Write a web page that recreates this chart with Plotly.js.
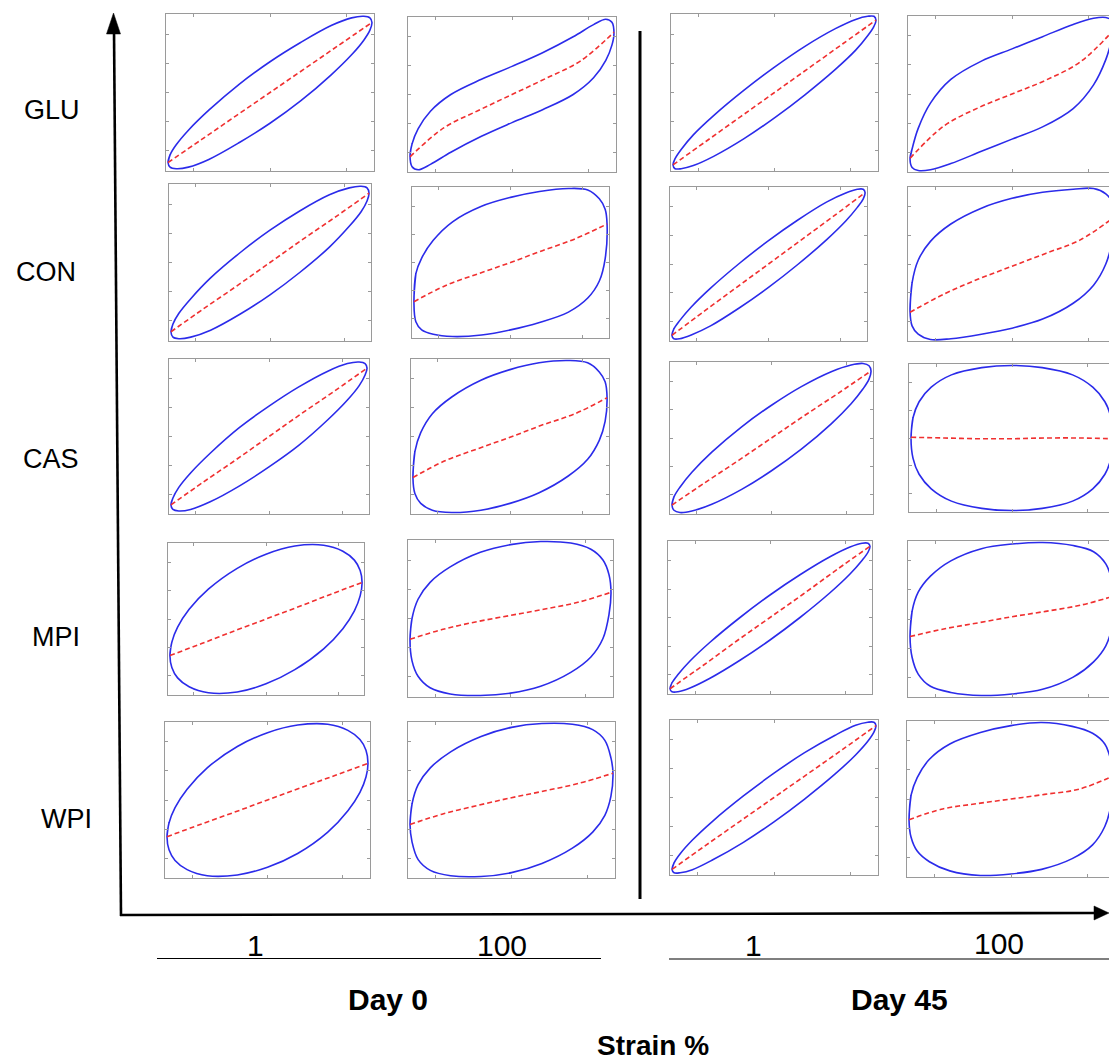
<!DOCTYPE html>
<html><head><meta charset="utf-8">
<script src="https://cdn.plot.ly/plotly-3.0.1.min.js"></script>
<style>html,body{margin:0;padding:0;background:#fff}</style>
</head><body><div id="chart" style="width:1109px;height:1062px"></div>
<script>
// ---------- labels ----------
const rowLabels = ['GLU', 'CON', 'CAS', 'MPI', 'WPI'];
const amplitudeLabels = ['1', '100', '1', '100'];
const dayLabels = ['Day 0', 'Day 45'];
const strainTitle = 'Strain %';

// ---------- normalised strain positions where stress was read ----------
const strainGrid  = [-1, -0.98, -0.92, -0.8, -0.6, -0.3, 0, 0.3, 0.6, 0.8, 0.92, 0.98, 1];
const elasticGrid = [-1, -0.67, -0.33, 0, 0.33, 0.67, 1];

// ---------- normalised stress: upper branch, lower branch, elastic stress ----------
const GLU_D0_1_up  = [-0.91,-0.81,-0.68,-0.49,-0.23,0.11,0.40,0.65,0.87,0.97,0.99,0.97,0.91];
const GLU_D0_1_lo  = [-0.91,-0.97,-0.99,-0.97,-0.87,-0.65,-0.40,-0.11,0.23,0.49,0.68,0.81,0.91];
const GLU_D0_1_el  = [-0.91,-0.61,-0.30,0,0.30,0.61,0.91];
const GLU_D0_100_up = [-0.8,-0.65,-0.45,-0.22,0.0,0.2,0.37,0.55,0.76,0.92,0.99,0.95,0.8];
const GLU_D0_100_lo = [-0.8,-0.95,-0.99,-0.92,-0.76,-0.55,-0.37,-0.2,0.0,0.22,0.45,0.65,0.8];
const GLU_D0_100_el = [-0.82,-0.44,-0.21,0.0,0.21,0.44,0.82];
const GLU_D45_1_up  = [-0.94,-0.86,-0.74,-0.55,-0.30,0.03,0.33,0.60,0.83,0.95,0.99,0.99,0.94];
const GLU_D45_1_lo  = [-0.94,-0.99,-0.99,-0.95,-0.83,-0.60,-0.33,-0.03,0.30,0.55,0.74,0.86,0.94];
const GLU_D45_1_el  = [-0.94,-0.63,-0.31,0,0.31,0.63,0.94];
const GLU_D45_100_up = [-0.85,-0.72,-0.45,-0.12,0.19,0.43,0.59,0.75,0.91,0.99,1.0,0.96,0.85];
const GLU_D45_100_lo = [-0.85,-0.96,-1.0,-0.99,-0.91,-0.75,-0.59,-0.43,-0.19,0.12,0.45,0.72,0.85];
const GLU_D45_100_el = [-0.84,-0.42,-0.18,0.0,0.18,0.42,0.84];

const CON_D0_1_up  = [-0.9,-0.80,-0.66,-0.47,-0.20,0.13,0.42,0.67,0.88,0.97,0.99,0.97,0.9];
const CON_D0_1_lo  = [-0.9,-0.97,-0.99,-0.97,-0.88,-0.67,-0.42,-0.13,0.20,0.47,0.66,0.80,0.9];
const CON_D0_1_el  = [-0.9,-0.6,-0.3,0,0.3,0.6,0.9];
const CON_D0_100_up = [-0.53,-0.15,0.06,0.3,0.55,0.76,0.88,0.96,1.0,0.98,0.86,0.72,0.52];
const CON_D0_100_lo = [-0.53,-0.8,-0.91,-0.97,-1.0,-0.98,-0.91,-0.81,-0.67,-0.48,-0.25,0.05,0.52];
const CON_D0_100_el = [-0.53,-0.31,-0.15,0.0,0.16,0.32,0.52];
const CON_D45_1_up  = [-0.945,-0.86,-0.75,-0.57,-0.32,0.01,0.31,0.58,0.82,0.94,0.99,0.99,0.945];
const CON_D45_1_lo  = [-0.945,-0.99,-0.99,-0.94,-0.82,-0.58,-0.31,-0.01,0.32,0.57,0.75,0.86,0.945];
const CON_D45_1_el  = [-0.945,-0.63,-0.31,0,0.31,0.63,0.945];
const CON_D45_100_up = [-0.62,-0.25,0.05,0.3,0.53,0.74,0.87,0.95,0.99,1.0,0.93,0.82,0.62];
const CON_D45_100_lo = [-0.62,-0.82,-0.93,-1.0,-0.99,-0.93,-0.85,-0.73,-0.52,-0.28,0.0,0.3,0.62];
const CON_D45_100_el = [-0.64,-0.40,-0.2,-0.03,0.14,0.32,0.62];

const CAS_D0_1_up  = [-0.9,-0.81,-0.67,-0.48,-0.22,0.12,0.40,0.65,0.86,0.96,0.98,0.96,0.9];
const CAS_D0_1_lo  = [-0.9,-0.96,-0.98,-0.96,-0.86,-0.65,-0.40,-0.12,0.22,0.48,0.67,0.81,0.9];
const CAS_D0_1_el  = [-0.9,-0.6,-0.3,0,0.3,0.6,0.9];
const CAS_D0_100_up = [-0.54,-0.2,0.05,0.3,0.52,0.74,0.88,0.97,1.0,0.97,0.85,0.72,0.51];
const CAS_D0_100_lo = [-0.54,-0.75,-0.88,-0.97,-1.0,-0.97,-0.88,-0.74,-0.52,-0.3,-0.05,0.2,0.51];
const CAS_D0_100_el = [-0.54,-0.32,-0.16,-0.01,0.15,0.30,0.51];
const CAS_D45_1_up  = [-0.9,-0.79,-0.66,-0.46,-0.19,0.15,0.44,0.69,0.89,0.98,1.0,0.97,0.9];
const CAS_D45_1_lo  = [-0.9,-0.97,-1.0,-0.98,-0.89,-0.69,-0.44,-0.15,0.19,0.46,0.66,0.79,0.9];
const CAS_D45_1_el  = [-0.9,-0.6,-0.3,0,0.3,0.6,0.9];
const CAS_D45_100_up = [0.0,0.28,0.5,0.7,0.87,0.97,1.0,0.97,0.87,0.7,0.5,0.28,0.0];
const CAS_D45_100_lo = [0.0,-0.28,-0.5,-0.7,-0.87,-0.97,-1.0,-0.97,-0.87,-0.7,-0.5,-0.28,0.0];
const CAS_D45_100_el = [0.01,0.0,-0.01,-0.01,0.0,0.0,-0.01];

const MPI_D0_1_up  = [-0.49,-0.31,-0.11,0.13,0.40,0.68,0.87,0.98,0.99,0.91,0.79,0.65,0.49];
const MPI_D0_1_lo  = [-0.49,-0.65,-0.79,-0.91,-0.99,-0.98,-0.87,-0.68,-0.40,-0.13,0.11,0.31,0.49];
const MPI_D0_1_el  = [-0.49,-0.33,-0.16,0,0.16,0.33,0.49];
const MPI_D0_100_up = [-0.27,0.0,0.25,0.47,0.67,0.86,0.96,1.0,0.98,0.9,0.76,0.57,0.34];
const MPI_D0_100_lo = [-0.27,-0.55,-0.75,-0.9,-0.98,-1.0,-0.97,-0.88,-0.7,-0.5,-0.26,0.05,0.34];
const MPI_D0_100_el = [-0.27,-0.14,-0.04,0.04,0.12,0.21,0.34];
const MPI_D45_1_up  = [-0.95,-0.87,-0.76,-0.58,-0.33,0.0,0.30,0.57,0.81,0.94,0.99,0.99,0.95];
const MPI_D45_1_lo  = [-0.95,-0.99,-0.99,-0.94,-0.81,-0.57,-0.30,0.0,0.33,0.58,0.76,0.87,0.95];
const MPI_D45_1_el  = [-0.95,-0.64,-0.31,0,0.31,0.64,0.95];
const MPI_D45_100_up = [-0.23,0.1,0.35,0.56,0.76,0.92,0.98,1.0,0.96,0.88,0.72,0.5,0.3];
const MPI_D45_100_lo = [-0.23,-0.5,-0.72,-0.88,-0.96,-1.0,-0.98,-0.92,-0.76,-0.56,-0.35,-0.1,0.3];
const MPI_D45_100_el = [-0.23,-0.13,-0.05,0.03,0.1,0.18,0.3];

const WPI_D0_1_up  = [-0.48,-0.30,-0.10,0.14,0.42,0.70,0.88,0.98,0.99,0.91,0.79,0.65,0.48];
const WPI_D0_1_lo  = [-0.48,-0.65,-0.79,-0.91,-0.99,-0.98,-0.88,-0.70,-0.42,-0.14,0.10,0.30,0.48];
const WPI_D0_1_el  = [-0.48,-0.32,-0.16,0,0.16,0.32,0.48];
const WPI_D0_100_up = [-0.32,-0.05,0.2,0.42,0.63,0.83,0.95,1.0,0.99,0.92,0.78,0.55,0.35];
const WPI_D0_100_lo = [-0.32,-0.55,-0.78,-0.92,-0.99,-1.0,-0.95,-0.83,-0.63,-0.42,-0.2,0.05,0.35];
const WPI_D0_100_el = [-0.32,-0.18,-0.07,0.03,0.12,0.22,0.35];
const WPI_D45_1_up  = [-0.945,-0.86,-0.74,-0.56,-0.31,0.02,0.32,0.59,0.82,0.95,0.99,0.99,0.945];
const WPI_D45_1_lo  = [-0.945,-0.99,-0.99,-0.95,-0.82,-0.59,-0.32,-0.02,0.31,0.56,0.74,0.86,0.945];
const WPI_D45_1_el  = [-0.945,-0.63,-0.31,0,0.31,0.63,0.945];
const WPI_D45_100_up = [-0.27,0.05,0.28,0.52,0.72,0.87,0.96,1.0,0.95,0.86,0.72,0.5,0.3];
const WPI_D45_100_lo = [-0.27,-0.5,-0.68,-0.82,-0.94,-1.0,-0.98,-0.92,-0.78,-0.6,-0.36,-0.08,0.3];
const WPI_D45_100_el = [-0.27,-0.13,-0.06,0.0,0.06,0.13,0.3];

// small tick marks inside each panel (no labels)
const panelXTicks = [-0.75, 0, 0.75];
const panelYTicks = [-0.76, -0.38, 0, 0.38, 0.76];

// ---------- table of panels (row x column) built from the arrays ----------
const panelData = [
  [[GLU_D0_1_up,GLU_D0_1_lo,GLU_D0_1_el],[GLU_D0_100_up,GLU_D0_100_lo,GLU_D0_100_el],[GLU_D45_1_up,GLU_D45_1_lo,GLU_D45_1_el],[GLU_D45_100_up,GLU_D45_100_lo,GLU_D45_100_el]],
  [[CON_D0_1_up,CON_D0_1_lo,CON_D0_1_el],[CON_D0_100_up,CON_D0_100_lo,CON_D0_100_el],[CON_D45_1_up,CON_D45_1_lo,CON_D45_1_el],[CON_D45_100_up,CON_D45_100_lo,CON_D45_100_el]],
  [[CAS_D0_1_up,CAS_D0_1_lo,CAS_D0_1_el],[CAS_D0_100_up,CAS_D0_100_lo,CAS_D0_100_el],[CAS_D45_1_up,CAS_D45_1_lo,CAS_D45_1_el],[CAS_D45_100_up,CAS_D45_100_lo,CAS_D45_100_el]],
  [[MPI_D0_1_up,MPI_D0_1_lo,MPI_D0_1_el],[MPI_D0_100_up,MPI_D0_100_lo,MPI_D0_100_el],[MPI_D45_1_up,MPI_D45_1_lo,MPI_D45_1_el],[MPI_D45_100_up,MPI_D45_100_lo,MPI_D45_100_el]],
  [[WPI_D0_1_up,WPI_D0_1_lo,WPI_D0_1_el],[WPI_D0_100_up,WPI_D0_100_lo,WPI_D0_100_el],[WPI_D45_1_up,WPI_D45_1_lo,WPI_D45_1_el],[WPI_D45_100_up,WPI_D45_100_lo,WPI_D45_100_el]]
];

// ---------- layout geometry (pixels: left, top, right, bottom) ----------
const W = 1109, H = 1062;
const frames = [
  [[166,14,374,171],[408,17,616,172],[671,14,878,171],[908,16,1116,172]],
  [[169,184,371,341],[412,187,609,338],[670,187,867,341],[908,187,1116,341]],
  [[169,359,369,514],[411,359,609,514],[670,362,873,514],[909,364,1115,512]],
  [[168,543,364,695],[408,540,613,697],[668,541,872,694],[908,541,1116,697]],
  [[165,722,370,878],[408,722,615,878],[670,720,878,875],[907,721,1115,877]]
];
const px = v => v / W;
const py = v => 1 - v / H;

const traces = [];
const layout = {
  width: W, height: H,
  margin: {l: 0, r: 0, t: 0, b: 0},
  paper_bgcolor: '#ffffff', plot_bgcolor: 'rgba(0,0,0,0)',
  showlegend: false,
  font: {family: 'Liberation Sans, Arial, sans-serif', color: '#000'},
  shapes: [], annotations: []
};

const PAD = 1.02;
let k = 0;
for (let r = 0; r < 5; r++) {
  for (let c = 0; c < 4; c++) {
    k++;
    const [up, lo, el] = panelData[r][c];
    const [L, T, R, B] = frames[r][c];
    const xa = 'x' + (k === 1 ? '' : k), ya = 'y' + (k === 1 ? '' : k);
    const xName = 'xaxis' + (k === 1 ? '' : k), yName = 'yaxis' + (k === 1 ? '' : k);
    const clipped = R > W;
    const visR = clipped ? W : R;
    const xMax = -PAD + 2 * PAD * (visR - L) / (R - L);

    // loop: increasing-strain branch then decreasing-strain branch, closed
    const lx = [], ly = [];
    for (let i = 0; i < strainGrid.length; i++) { lx.push(strainGrid[i]); ly.push(up[i]); }
    for (let i = strainGrid.length - 2; i >= 0; i--) { lx.push(strainGrid[i]); ly.push(lo[i]); }
    lx.push(strainGrid[1]); ly.push(up[1]);

    traces.push({
      type: 'scatter', mode: 'lines', x: lx, y: ly, xaxis: xa, yaxis: ya,
      line: {color: '#2b2bea', width: 1.6, shape: 'spline', smoothing: 1},
      hoverinfo: 'skip'
    });
    traces.push({
      type: 'scatter', mode: 'lines', x: elasticGrid, y: el, xaxis: xa, yaxis: ya,
      line: {color: '#f03030', width: 1.6, dash: '5px,3px', shape: 'spline', smoothing: 1},
      hoverinfo: 'skip'
    });

    const common = {
      showgrid: false, zeroline: false, showticklabels: false,
      ticks: 'inside', ticklen: 3, tickwidth: 1, tickcolor: '#9a9a9a',
      showline: true, linecolor: '#9a9a9a', linewidth: 1.2, fixedrange: true
    };
    layout[xName] = Object.assign({}, common, {
      domain: [px(L), px(visR)], range: [-PAD, xMax], anchor: ya,
      tickmode: 'array', tickvals: panelXTicks, mirror: 'ticks'
    });
    layout[yName] = Object.assign({}, common, {
      domain: [py(B), py(T)], range: [-PAD, PAD], anchor: xa,
      tickmode: 'array', tickvals: panelYTicks, mirror: clipped ? false : 'ticks'
    });
  }
}

// ---------- arrows, divider, underlines ----------
const lineShape = (x0, y0, x1, y1, w) => ({type: 'line', xref: 'paper', yref: 'paper',
  x0: px(x0), y0: py(y0), x1: px(x1), y1: py(y1), line: {color: '#000', width: w}});
const tri = (a, b, c) => ({type: 'path', xref: 'paper', yref: 'paper',
  path: `M ${px(a[0])} ${py(a[1])} L ${px(b[0])} ${py(b[1])} L ${px(c[0])} ${py(c[1])} Z`,
  fillcolor: '#000', line: {color: '#000', width: 0.5}});

layout.shapes.push(lineShape(121, 916, 114, 30, 2.6));
layout.shapes.push(tri([113.5, 13], [106.5, 34], [120.5, 34]));
layout.shapes.push(lineShape(120, 915, 1095, 913, 2.6));
layout.shapes.push(tri([1109, 913], [1094, 906], [1094, 920]));
layout.shapes.push(lineShape(640, 31, 640, 899, 3));
layout.shapes.push(lineShape(157, 958.5, 601, 958.5, 1.2));
layout.shapes.push(lineShape(669, 959, 1109, 959, 1.2));

// ---------- text ----------
const ann = (text, x, y, size, bold) => ({
  text: bold ? '<b>' + text + '</b>' : text, xref: 'paper', yref: 'paper',
  x: px(x), y: py(y), xanchor: 'center', yanchor: 'middle', showarrow: false,
  font: {size: size, color: '#000', family: 'Liberation Sans, Arial, sans-serif'}
});
const rowLabelPos = [[52, 110], [46, 272], [51, 459], [56, 637], [66, 819]];
rowLabels.forEach((t, i) => layout.annotations.push(ann(t, rowLabelPos[i][0], rowLabelPos[i][1], 27, false)));
const ampPos = [[255, 945], [502, 945], [753, 945], [999, 943]];
amplitudeLabels.forEach((t, i) => layout.annotations.push(ann(t, ampPos[i][0], ampPos[i][1], 30, false)));
const dayPos = [[388, 999], [899, 999]];
dayLabels.forEach((t, i) => layout.annotations.push(ann(t, dayPos[i][0], dayPos[i][1], 30, true)));
layout.annotations.push(ann(strainTitle, 653, 1045, 28, true));

Plotly.newPlot('chart', traces, layout, {staticPlot: true, displayModeBar: false});
</script>
</body></html>
